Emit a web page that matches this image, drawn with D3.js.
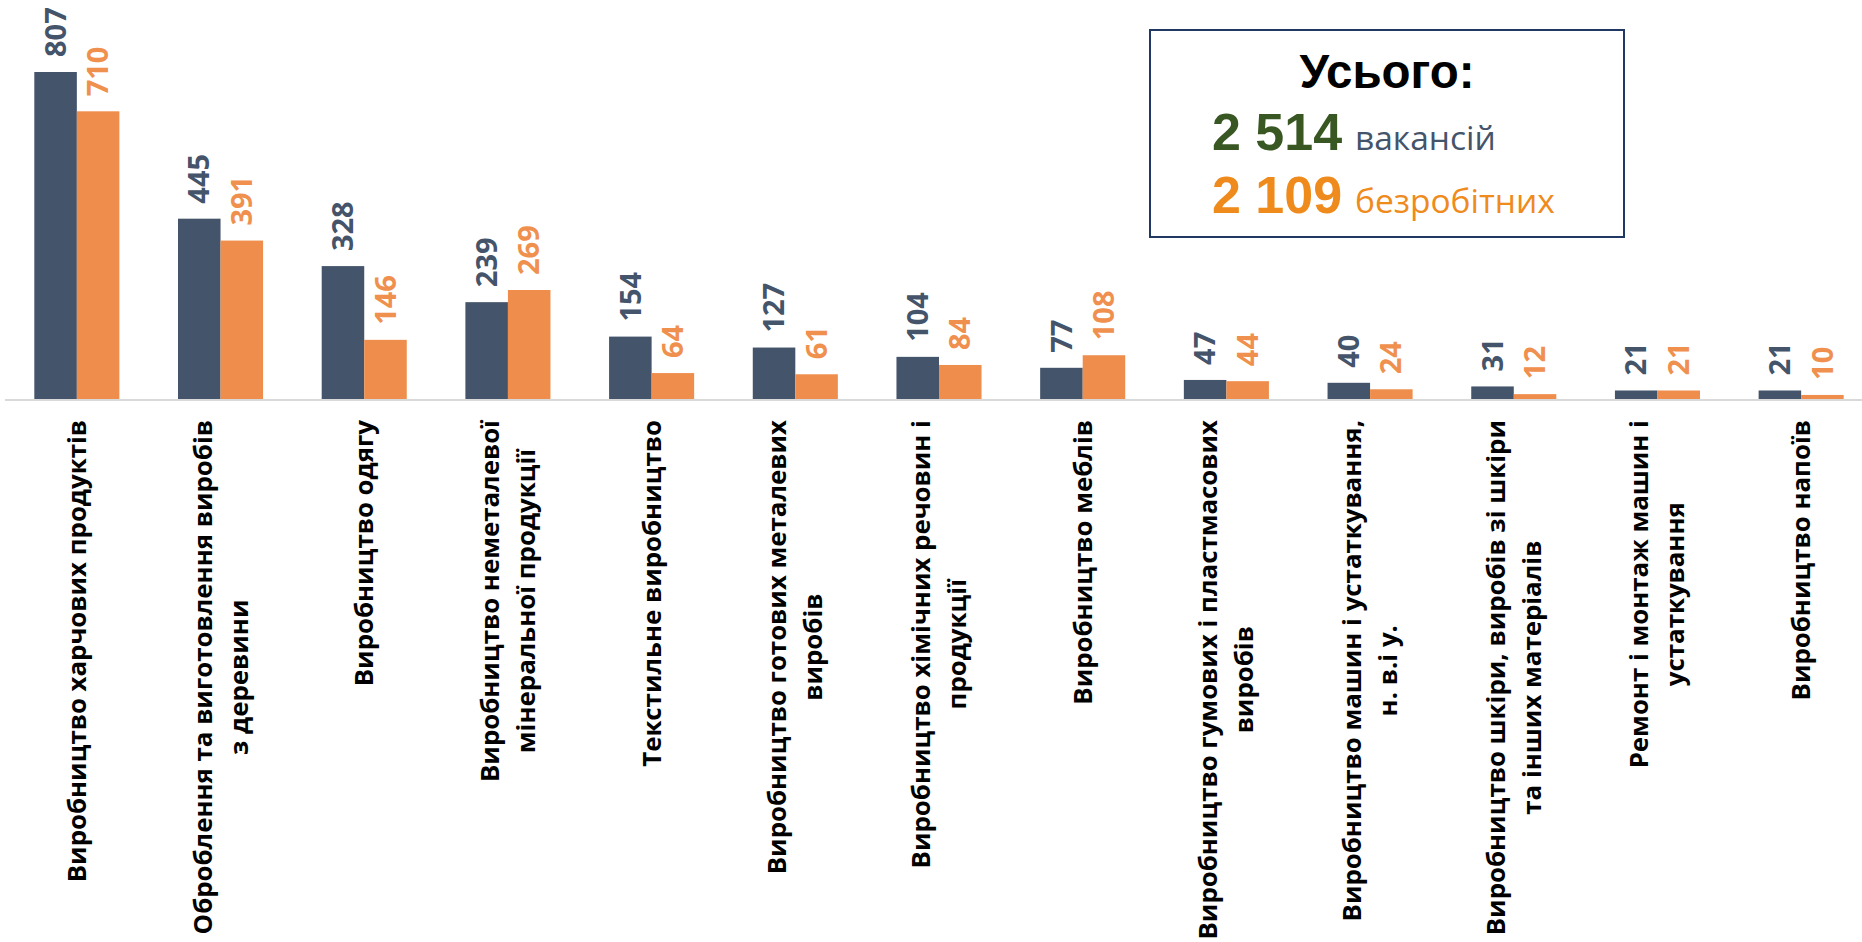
<!DOCTYPE html>
<head>
  <meta charset="utf-8">
  <script src="https://d3js.org/d3.v7.min.js"></script>
  <style>
    body { margin:0; background:#fff; }
    svg { display:block; }

    .cat-label {
      font-family: 'Open Sans', sans-serif;
      font-weight: 700;
      font-size: 25.8px;
      fill: #000;
    }

    .value-label {
      font-family: 'Open Sans', sans-serif;
      font-weight: 700;
      font-size: 29px;
    }

    .axis-line {
      stroke: #d9d9d9;
      stroke-width: 2;
    }

    .total-box {
      fill: #fff;
      stroke: #1f3864;
      stroke-width: 2;
    }
  </style>
</head>

<body>
  <script>
    var categories = [
      ["Виробництво харчових продуктів"],
      ["Оброблення та виготовлення виробів", "з деревини"],
      ["Виробництво одягу"],
      ["Виробництво неметалевої", "мінеральної продукції"],
      ["Текстильне виробництво"],
      ["Виробництво готових металевих", "виробів"],
      ["Виробництво хімічних речовин і", "продукції"],
      ["Виробництво меблів"],
      ["Виробництво гумових і пластмасових", "виробів"],
      ["Виробництво машин і устаткування,", "н. в.і у."],
      ["Виробництво шкіри, виробів зі шкіри", "та інших матеріалів"],
      ["Ремонт і монтаж машин і", "устаткування"],
      ["Виробництво напоїв"]
    ];

    var vacancies  = [807, 445, 328, 239, 154, 127, 104, 77, 47, 40, 31, 21, 21];
    var unemployed = [710, 391, 146, 269, 64, 61, 84, 108, 44, 24, 12, 21, 10];

    var seriesNames = ["вакансії", "безробітні"];

    var totalTitle = "Усього:";
    var totals = [
      {value: "2 514", label: "вакансій"},
      {value: "2 109", label: "безробітних"}
    ];

    var width = 1862, height = 942;

    var barColour   = {"вакансії": "#44546a", "безробітні": "#ef8e4c"};
    var labelColour = {"вакансії": "#44546a", "безробітні": "#f0904e"};
    var totalValueColour = ["#385723", "#ef8a1c"];
    var totalLabelColour = ["#44546a", "#ef8a1c"];

    var svg = d3.select("body").append("svg")
        .attr("width", width)
        .attr("height", height);

    var data = categories.map((c, i) => ({
      key: i,
      lines: c,
      values: [
        {series: seriesNames[0], value: vacancies[i]},
        {series: seriesNames[1], value: unemployed[i]}
      ]
    }));

    var baseline = 399;

    var x0 = d3.scaleBand()
        .domain(data.map(d => d.key))
        .range([5, 1873])
        .paddingInner(0.408)
        .paddingOuter(0.204);

    var x1 = d3.scaleBand()
        .domain(seriesNames)
        .range([0, x0.bandwidth()]);

    var y = d3.scaleLinear()
        .domain([0, 807])
        .range([baseline, 72]);

    // bars
    var groups = svg.append("g")
      .selectAll("g")
      .data(data)
      .enter().append("g")
        .attr("transform", d => "translate(" + x0(d.key) + ",0)");

    groups.selectAll("rect")
      .data(d => d.values)
      .enter().append("rect")
        .attr("x", d => x1(d.series))
        .attr("y", d => y(d.value))
        .attr("width", x1.bandwidth())
        .attr("height", d => y(0) - y(d.value))
        .style("fill", d => barColour[d.series]);

    groups.selectAll("text")
      .data(d => d.values)
      .enter().append("text")
        .attr("class", "value-label")
        .attr("transform", d => "translate(" + (x1(d.series) + x1.bandwidth() / 2) + "," + (y(d.value) - 15) + ") rotate(-90)")
        .attr("dy", "0.35em")
        .style("fill", d => labelColour[d.series])
        .text(d => d.value);

    // axis line
    svg.append("line")
      .attr("class", "axis-line")
      .attr("x1", 5)
      .attr("x2", width)
      .attr("y1", baseline + 1)
      .attr("y2", baseline + 1);

    // category labels, block top-aligned under the axis, lines centred
    var linePitch = 36;
    var labelTop = 420;

    var catGroups = svg.append("g")
      .selectAll("g")
      .data(data)
      .enter().append("g")
        .attr("transform", d => "translate(" + (x0(d.key) + x0.bandwidth() / 2) + "," + labelTop + ") rotate(-90)");

    catGroups.each(function(d) {
      var g = d3.select(this);
      var n = d.lines.length;
      var texts = g.selectAll("text")
        .data(d.lines)
        .enter().append("text")
          .attr("class", "cat-label")
          .attr("text-anchor", "middle")
          .attr("y", (t, i) => (i - (n - 1) / 2) * linePitch)
          .attr("dy", "0.35em")
          .text(t => t);
      var maxLen = d3.max(texts.nodes(), node => node.getComputedTextLength());
      texts.attr("x", -maxLen / 2);
    });

    // totals box
    var box = svg.append("g");
    box.append("rect")
      .attr("class", "total-box")
      .attr("x", 1150)
      .attr("y", 30)
      .attr("width", 474)
      .attr("height", 207);

    box.append("text")
      .attr("x", 1387)
      .attr("y", 88)
      .attr("text-anchor", "middle")
      .style("font-family", "'Liberation Sans', Arial, sans-serif")
      .style("font-weight", 700)
      .style("font-size", "47.5px")
      .style("fill", "#000")
      .text(totalTitle);

    totals.forEach((t, i) => {
      var row = box.append("text")
        .attr("x", 1212)
        .attr("y", 150 + i * 63);
      row.append("tspan")
        .style("font-family", "'Liberation Sans', Arial, sans-serif")
        .style("font-weight", 700)
        .style("font-size", "52px")
        .style("fill", totalValueColour[i])
        .text(t.value);
      row.append("tspan")
        .attr("x", 1355)
        .style("font-family", "'Open Sans', sans-serif")
        .style("font-size", "33.5px")
        .style("fill", totalLabelColour[i])
        .text(t.label);
    });
  </script>
</body>
